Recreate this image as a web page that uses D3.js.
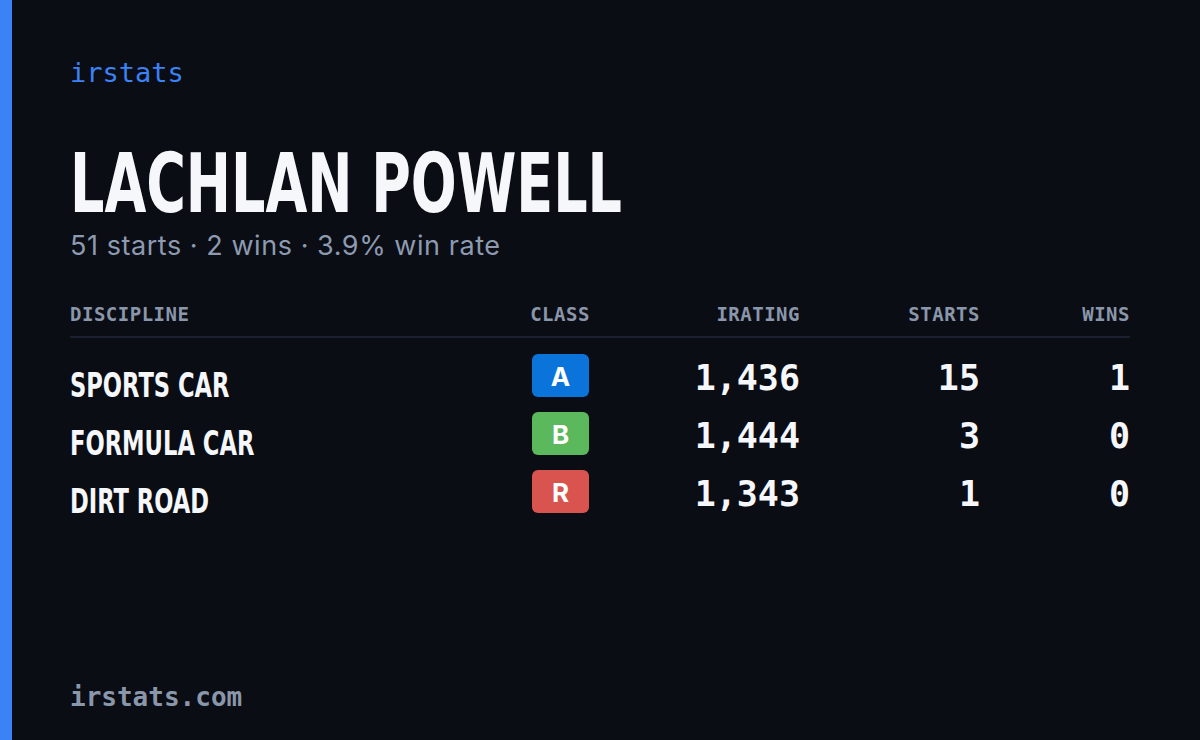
<!DOCTYPE html>
<html>
<head>
<meta charset="utf-8">
<script src="https://cdn.jsdelivr.net/npm/d3@7"></script>
<style>
  body { margin: 0; background: #0a0d14; }
  svg { display: block; }
</style>
</head>
<body>
<svg id="svg" width="1200" height="740"></svg>
<script>
// card data
const driverName = "LACHLAN POWELL";
const summary = "51 starts · 2 wins · 3.9% win rate";
const disciplines = ["SPORTS CAR", "FORMULA CAR", "DIRT ROAD"];
const classes = ["A", "B", "R"];
const iratings = [1436, 1444, 1343];
const starts = [15, 3, 1];
const wins = [1, 0, 0];
const headers = ["DISCIPLINE", "CLASS", "IRATING", "STARTS", "WINS"];

const classColor = { A: "#0a74da", B: "#5cb85c", R: "#d9534f" };
const mono = "'DejaVu Sans Mono', 'Liberation Mono', monospace";
const narrow = "'DejaVu Sans Condensed', 'Liberation Sans Narrow', sans-serif";

let svg = d3.select("#svg");

svg.append("rect").attr("width", 1200).attr("height", 740).attr("fill", "#0a0d14");
svg.append("rect").attr("width", 12).attr("height", 740).attr("fill", "#3b82f6");

svg.append("text").attr("x", 70).attr("y", 82)
  .attr("font-family", mono).attr("font-size", 27).attr("fill", "#3b82f6")
  .text("irstats");

svg.append("text").attr("x", 70).attr("y", 212)
  .attr("font-family", narrow).attr("font-weight", "bold").attr("font-size", 82)
  .attr("fill", "#f5f7fb").attr("textLength", 552).attr("lengthAdjust", "spacingAndGlyphs")
  .text(driverName);

svg.append("text").attr("x", 70).attr("y", 255)
  .attr("font-family", "Inter, 'Noto Sans', sans-serif").attr("font-size", 27)
  .attr("fill", "#8d9ab0").attr("textLength", 430).attr("lengthAdjust", "spacing")
  .text(summary);

// columns: x anchor and alignment
const cols = [
  { x: 70, anchor: "start" },
  { x: 560, anchor: "middle" },
  { x: 800, anchor: "end" },
  { x: 980, anchor: "end" },
  { x: 1130, anchor: "end" },
];

svg.selectAll("text.hdr").data(headers).join("text").attr("class", "hdr")
  .attr("x", (d, i) => cols[i].x).attr("y", 321)
  .attr("text-anchor", (d, i) => cols[i].anchor)
  .attr("font-family", mono).attr("font-weight", "bold").attr("font-size", 19).attr("fill", "#8a96aa")
  .attr("letter-spacing", 0.5)
  .text((d) => d);

svg.append("line").attr("x1", 70).attr("x2", 1130).attr("y1", 337).attr("y2", 337)
  .attr("stroke", "#1c2130").attr("stroke-width", 2);

let y = d3.scaleBand().domain(disciplines).range([348, 522]);
let fmt = d3.format(",");

let rows = svg.selectAll("g.row").data(disciplines).join("g").attr("class", "row")
  .attr("transform", (d) => `translate(0, ${y(d) + y.bandwidth() / 2})`);

rows.append("text")
  .attr("transform", "translate(70, 20) scale(0.74, 1)")
  .attr("font-family", narrow).attr("font-weight", "bold").attr("font-size", 34)
  .attr("fill", "#f5f7fb")
  .text((d) => d);

rows.append("rect").attr("x", 532).attr("y", -23).attr("width", 57).attr("height", 43)
  .attr("rx", 6).attr("fill", (d, i) => classColor[classes[i]]);

rows.append("text").attr("x", 560.5).attr("y", 9).attr("text-anchor", "middle")
  .attr("font-family", "Inter, sans-serif").attr("font-weight", "bold").attr("font-size", 26)
  .attr("fill", "#ffffff")
  .text((d, i) => classes[i]);

const numCols = [
  { x: 800, vals: iratings.map(fmt) },
  { x: 980, vals: starts },
  { x: 1130, vals: wins },
];
numCols.forEach((c) => {
  rows.append("text").attr("x", c.x).attr("y", 13).attr("text-anchor", "end")
    .attr("font-family", mono).attr("font-weight", "bold").attr("font-size", 35).attr("fill", "#f5f7fb")
    .text((d, i) => c.vals[i]);
});

svg.append("text").attr("x", 70).attr("y", 706)
  .attr("font-family", mono).attr("font-weight", "bold").attr("font-size", 26).attr("fill", "#8a96aa")
  .text("irstats.com");
</script>
</body>
</html>
